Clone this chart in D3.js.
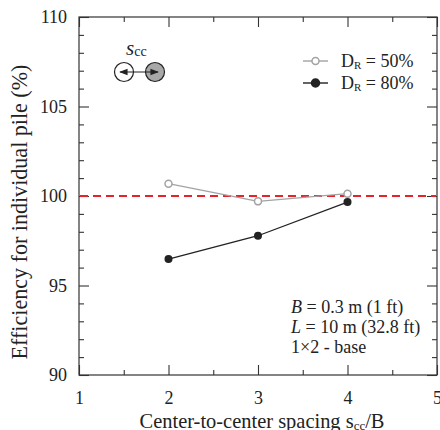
<!DOCTYPE html>
<html><head><meta charset="utf-8">
<script src="https://cdn.jsdelivr.net/npm/d3@7"></script>
</head><body style="margin:0">
<svg id="c" width="440" height="430"></svg>
<script>
const spacing = [2, 3, 4];
const dr50 = [100.69, 99.70, 100.13];
const dr80 = [96.48, 97.78, 99.66];
const xTicks = [1, 2, 3, 4, 5];
const yTicks = [90, 95, 100, 105, 110];

const svg = d3.select("#c");
const L = 79, R = 437, T = 17, B = 375;
const x = d3.scaleLinear().domain([1, 5]).range([L, R]);
const y = d3.scaleLinear().domain([90, 110]).range([B, T]);
const axisCol = "#333";
const FONT = '"Liberation Serif"';

svg.append("rect").attr("x", L).attr("y", T).attr("width", R - L).attr("height", B - T)
  .attr("fill", "none").attr("stroke", axisCol).attr("stroke-width", 1.2);

function ticks(g, axis) {
  g.call(axis); g.select(".domain").remove();
  g.attr("font-family", null).attr("font-size", null);
  g.selectAll("line").attr("stroke", axisCol).attr("stroke-width", 1.1);
}
const xMinor = d3.range(1, 5.01, 0.5).filter(v => !xTicks.includes(v));
const yMinor = d3.range(90, 110.01, 1).filter(v => !yTicks.includes(v));

const gb = svg.append("g").attr("transform", `translate(0,${B})`);
ticks(gb, d3.axisBottom(x).tickValues(xTicks).tickSize(-10).tickPadding(16).tickFormat(d3.format("d")));
gb.selectAll("text").attr("font-size", 18);
ticks(svg.append("g").attr("transform", `translate(0,${B})`), d3.axisBottom(x).tickValues(xMinor).tickSize(-5).tickFormat(""));
ticks(svg.append("g").attr("transform", `translate(0,${T})`), d3.axisTop(x).tickValues(xTicks).tickSize(-10).tickFormat(""));
ticks(svg.append("g").attr("transform", `translate(0,${T})`), d3.axisTop(x).tickValues(xMinor).tickSize(-5).tickFormat(""));
const gl = svg.append("g").attr("transform", `translate(${L},0)`);
ticks(gl, d3.axisLeft(y).tickValues(yTicks).tickSize(-10).tickPadding(12).tickFormat(d3.format("d")));
gl.selectAll("text").attr("font-size", 18);
ticks(svg.append("g").attr("transform", `translate(${L},0)`), d3.axisLeft(y).tickValues(yMinor).tickSize(-5).tickFormat(""));
ticks(svg.append("g").attr("transform", `translate(${R},0)`), d3.axisRight(y).tickValues(yTicks).tickSize(-10).tickFormat(""));
ticks(svg.append("g").attr("transform", `translate(${R},0)`), d3.axisRight(y).tickValues(yMinor).tickSize(-5).tickFormat(""));

svg.append("line").attr("x1", L + 1).attr("x2", R - 1).attr("y1", y(100)).attr("y2", y(100))
  .attr("stroke", "#e8222b").attr("stroke-width", 1.8).attr("stroke-dasharray", "8,5");

const line = d3.line().x((d, i) => x(spacing[i])).y(d => y(d));
svg.append("path").datum(dr50).attr("d", line).attr("fill", "none").attr("stroke", "#a3a3a3").attr("stroke-width", 1.4);
svg.selectAll(".p50").data(dr50).join("circle").attr("cx", (d, i) => x(spacing[i])).attr("cy", d => y(d))
  .attr("r", 3.5).attr("fill", "#fff").attr("stroke", "#a3a3a3").attr("stroke-width", 1.5);
svg.append("path").datum(dr80).attr("d", line).attr("fill", "none").attr("stroke", "#222").attr("stroke-width", 1.3);
svg.selectAll(".p80").data(dr80).join("circle").attr("cx", (d, i) => x(spacing[i])).attr("cy", d => y(d))
  .attr("r", 4).attr("fill", "#222");

const leg = [{lab: "50%", c: "#a3a3a3", open: true, yy: 61}, {lab: "80%", c: "#222", open: false, yy: 83}];
leg.forEach(l => {
  svg.append("line").attr("x1", 303).attr("x2", 328).attr("y1", l.yy).attr("y2", l.yy).attr("stroke", l.c).attr("stroke-width", 1.4);
  svg.append("circle").attr("cx", 315.5).attr("cy", l.yy).attr("r", l.open ? 3.5 : 4)
    .attr("fill", l.open ? "#fff" : l.c).attr("stroke", l.c).attr("stroke-width", 1.5);
  const t = svg.append("text").attr("x", 341).attr("y", l.yy + 6).attr("font-size", 18);
  t.append("tspan").text("D");
  t.append("tspan").attr("font-size", 11).attr("dy", 2).text("R");
  t.append("tspan").attr("dy", -2).text(" = " + l.lab);
});

let t1 = svg.append("text").attr("x", 291).attr("y", 313).attr("font-size", 18);
t1.append("tspan").attr("font-style", "italic").text("B");
t1.append("tspan").text(" = 0.3 m (1 ft)");
let t2 = svg.append("text").attr("x", 291).attr("y", 333).attr("font-size", 18);
t2.append("tspan").attr("font-style", "italic").text("L");
t2.append("tspan").text(" = 10 m (32.8 ft)");
svg.append("text").attr("x", 291).attr("y", 353).attr("font-size", 18).text("1×2 - base");

svg.append("defs").html('<marker id="ah" viewBox="0 0 10 10" refX="9" refY="5" markerWidth="7" markerHeight="7" orient="auto-start-reverse"><path d="M0,1 L10,5 L0,9 z" fill="#222"/></marker>');
svg.append("circle").attr("cx", 124).attr("cy", 72).attr("r", 9.5).attr("fill", "#fff").attr("stroke", "#222").attr("stroke-width", 1.2);
svg.append("circle").attr("cx", 155).attr("cy", 72).attr("r", 9.5).attr("fill", "#a8a8a8").attr("stroke", "#222").attr("stroke-width", 1.2);
svg.append("line").attr("x1", 120).attr("x2", 158).attr("y1", 72).attr("y2", 72).attr("stroke", "#222").attr("stroke-width", 1.2)
  .attr("marker-start", "url(#ah)").attr("marker-end", "url(#ah)");
const st = svg.append("text").attr("x", 126).attr("y", 55).attr("font-size", 21).attr("font-style", "italic");
st.append("tspan").text("s");
st.append("tspan").attr("font-size", 14).attr("font-style", "normal").attr("dy", 1).text("cc");

const xt = svg.append("text").attr("x", 262).attr("y", 428).attr("text-anchor", "middle").attr("font-size", 20.5);
xt.append("tspan").text("Center-to-center spacing s");
xt.append("tspan").attr("font-size", 13).attr("dy", 2).text("cc");
xt.append("tspan").attr("dy", -2).text("/B");
const yt = svg.append("text").attr("transform", `translate(27,212) rotate(-90)`).attr("text-anchor", "middle")
  .attr("font-size", 22).text("Efficiency for individual pile (%)");

svg.selectAll("text").style("font-family", FONT).attr("fill", "#222");

function fit(sel, target) {
  const len = sel.node().getComputedTextLength();
  if (len > 0) {
    const k = target / len;
    sel.attr("font-size", +sel.attr("font-size") * k);
    sel.selectAll("tspan").each(function () { const fs = d3.select(this).attr("font-size"); if (fs) d3.select(this).attr("font-size", fs * k); });
  }
}
fit(yt, 295);
fit(xt, 245);
</script></body></html>
